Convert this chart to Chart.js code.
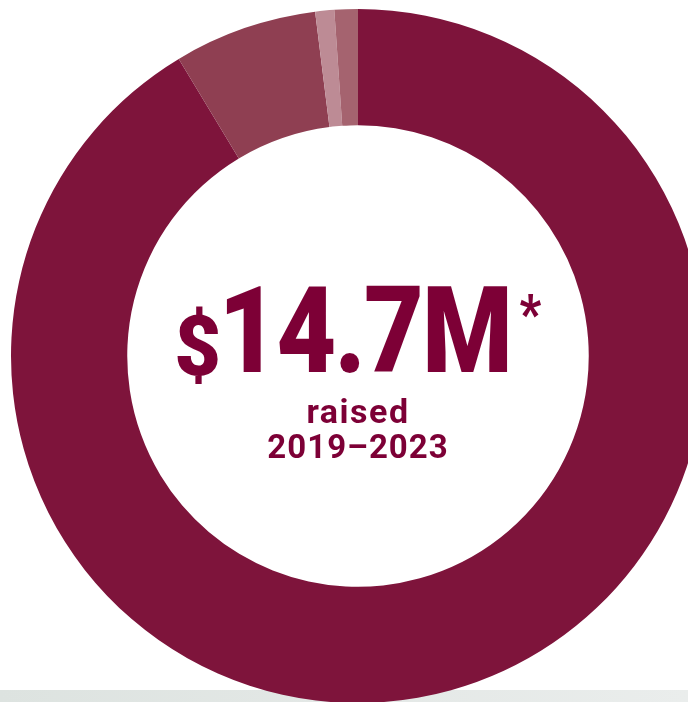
<!DOCTYPE html>
<html>
<head>
<meta charset="utf-8">
<script src="https://cdn.jsdelivr.net/npm/chart.js@4.4.1/dist/chart.umd.min.js"></script>
<style>
  html, body {
    margin: 0;
    padding: 0;
    width: 688px;
    height: 702px;
    overflow: hidden;
    background: #fff;
  }
  #band {
    position: absolute;
    left: 0;
    top: 690px;
    width: 688px;
    height: 12px;
    background: linear-gradient(to right, #dde3e0, #eaedec);
  }
  #chartBox {
    position: absolute;
    left: 0;
    top: 0;
    width: 716px;
    height: 712px;
  }
  .label {
    position: absolute;
    left: 0;
    width: 716px;
    text-align: center;
    font-family: Roboto, "Noto Sans", sans-serif;
    font-weight: 900;
    color: #7d0036;
    line-height: 1;
    white-space: nowrap;
  }
  #big {
    top: 271px;
    font-size: 120px;
    transform: scaleX(0.86);
    letter-spacing: -2px;
  }
  #big .dollar {
    display: inline-block;
    font-size: 84px;
    position: relative;
    top: 3px;
    margin-right: 2px;
    transform: scaleX(1.12);
  }
  #big .star {
    font-size: 54px;
    position: relative;
    top: -40px;
    margin-left: 10px;
  }
  #raised {
    top: 394px;
    font-size: 34px;
    letter-spacing: 1.5px;
    font-weight: 700;
  }
  #years {
    top: 430px;
    font-size: 33px;
    letter-spacing: 1px;
    font-weight: 700;
  }
</style>
</head>
<body>
<div id="band"></div>
<div id="chartBox"><canvas id="donut" width="716" height="712"></canvas></div>
<div class="label" id="big"><span class="dollar">$</span>14.7M<span class="star">*</span></div>
<div class="label" id="raised">raised</div>
<div class="label" id="years">2019–2023</div>

<script>
// Data ($ millions)
const sources = ['Source 1', 'Source 2', 'Source 3', 'Source 4'];
const amounts = [13.43, 0.98, 0.13, 0.16];
const sliceColors = ['#7e143b', '#8f3f52', '#bd8b95', '#a5636f'];

const ctx = document.getElementById('donut').getContext('2d');
const donut = new Chart(ctx, {
  type: 'doughnut',
  data: {
    labels: sources,
    datasets: [{
      data: amounts,
      backgroundColor: sliceColors,
      borderWidth: 0,
      hoverOffset: 0,
      offset: 0
    }]
  },
  options: {
    responsive: false,
    animation: false,
    cutout: '66.5%',
    layout: {
      padding: { left: 11, right: 11, top: 9, bottom: 9 }
    },
    plugins: {
      legend: { display: false },
      tooltip: { enabled: false }
    },
    events: []
  }
});
</script>
</body>
</html>
